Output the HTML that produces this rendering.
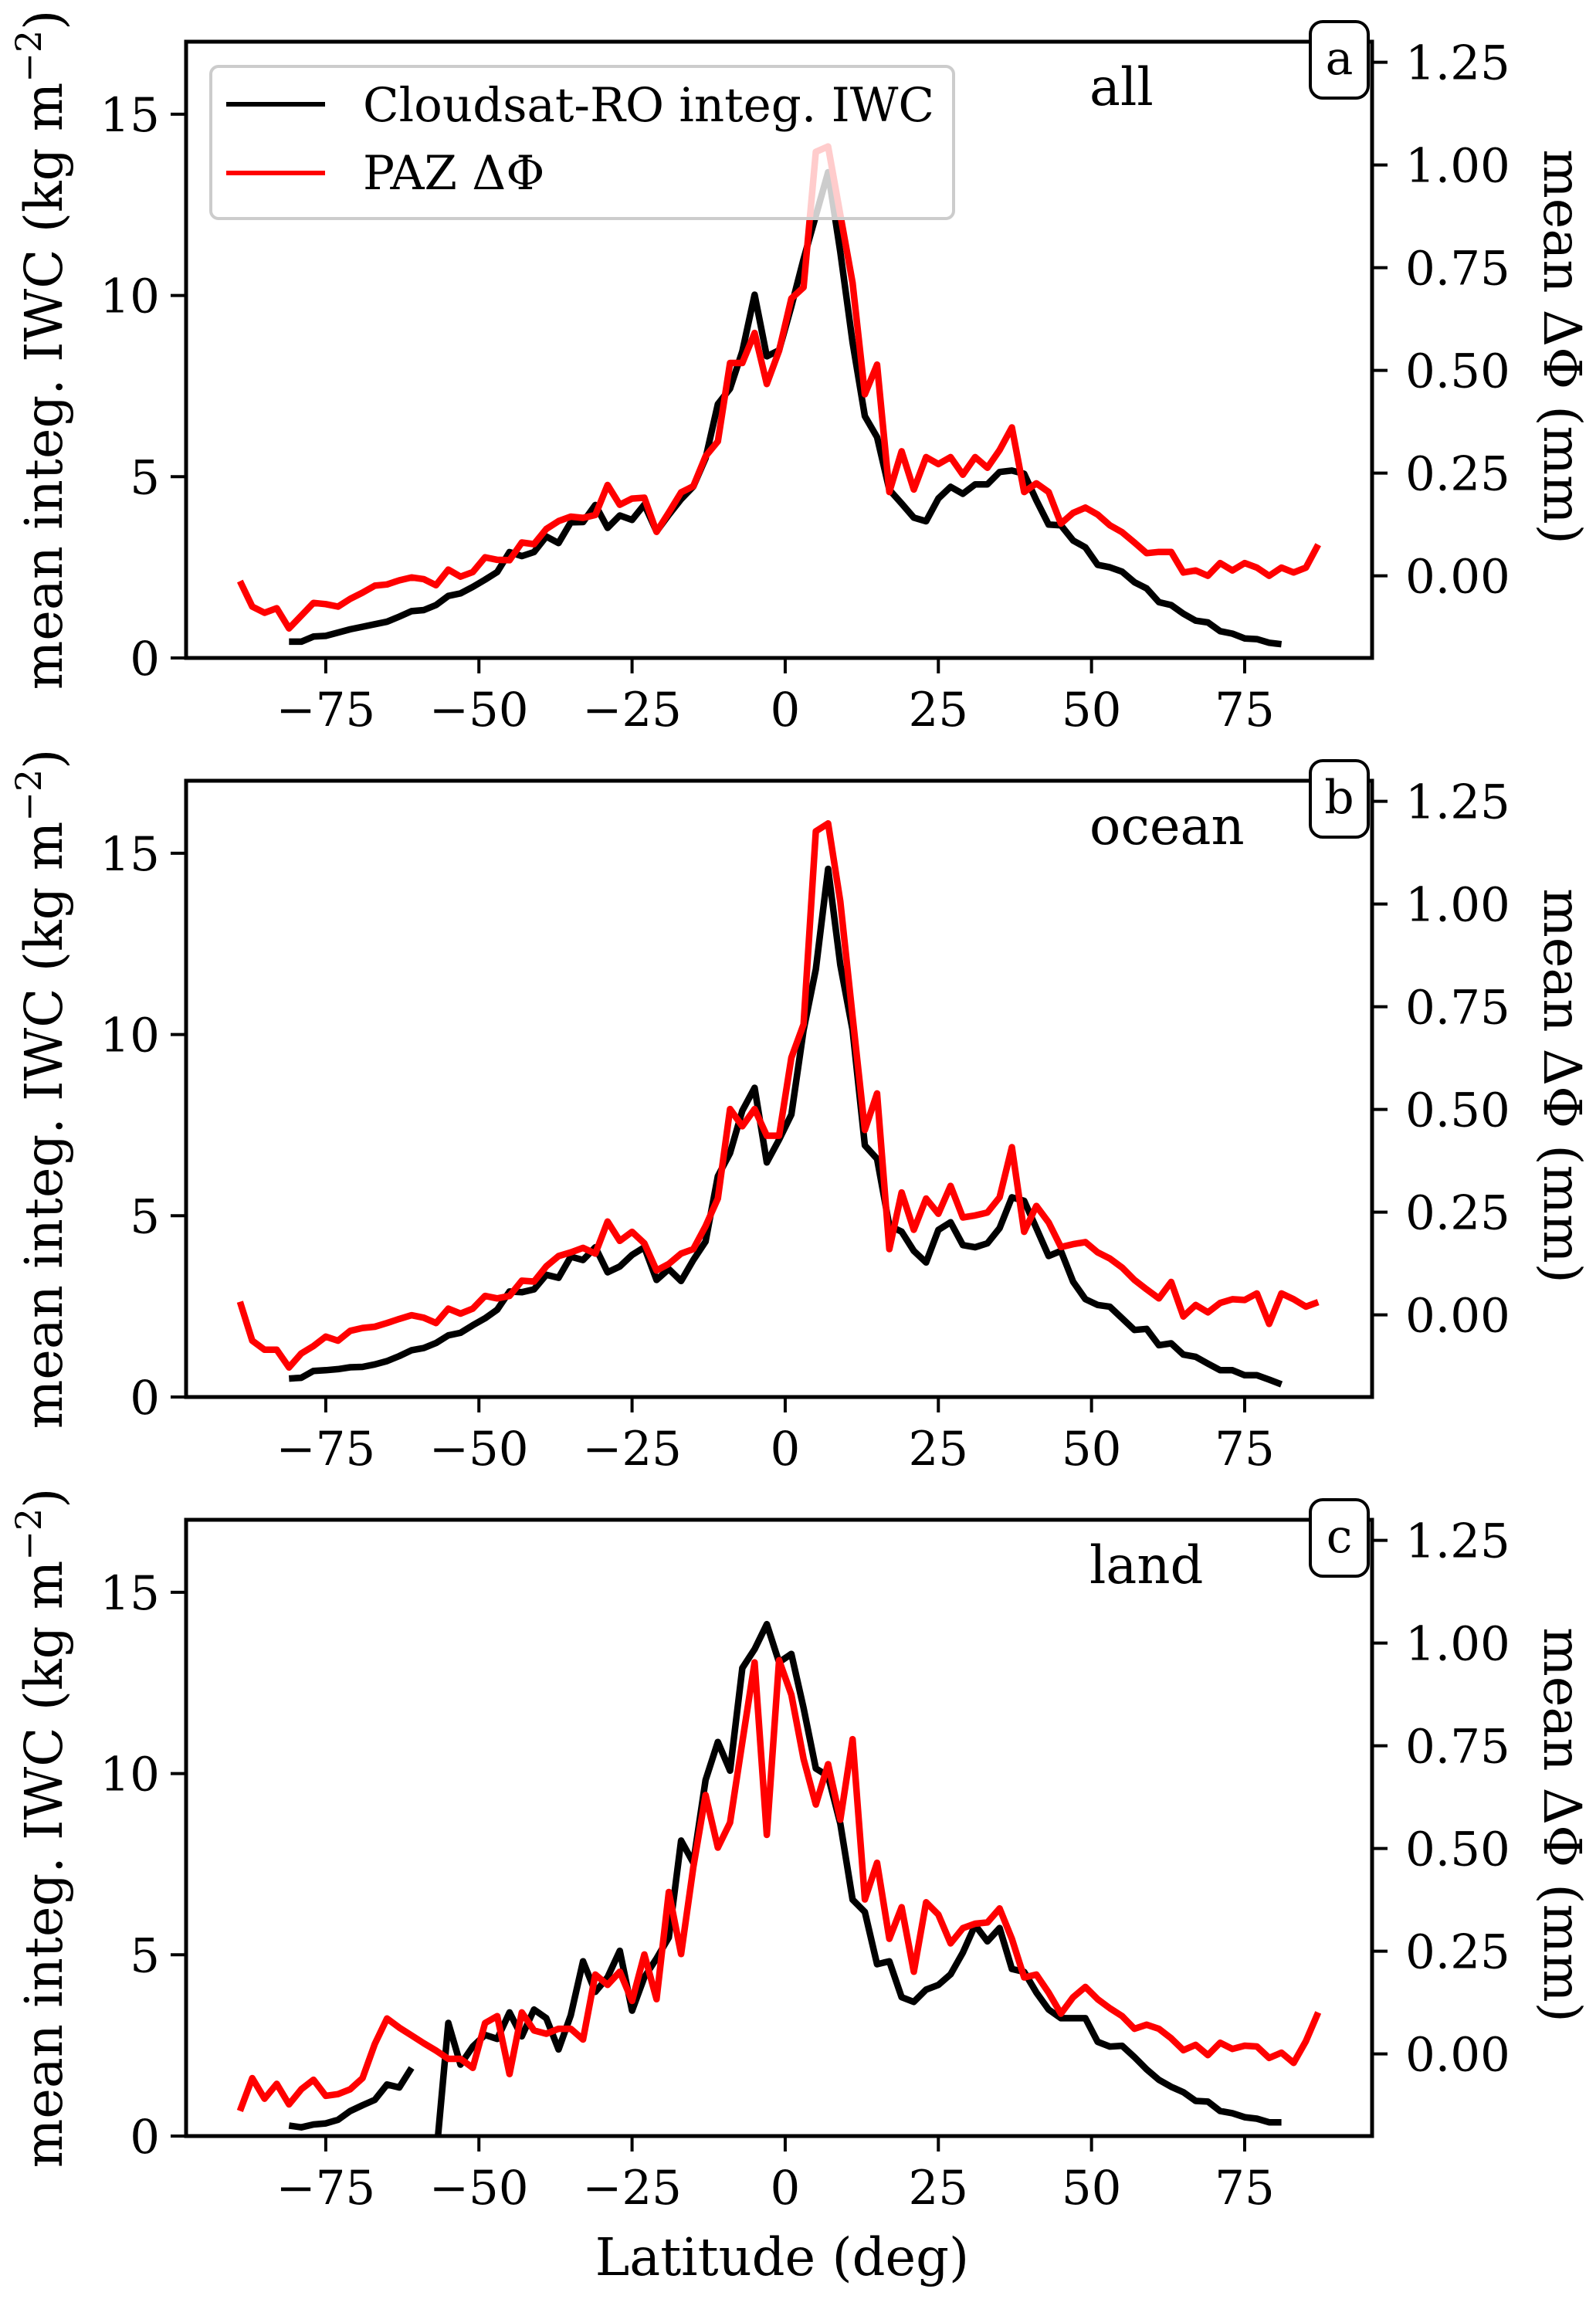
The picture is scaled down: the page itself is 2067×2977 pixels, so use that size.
<!DOCTYPE html>
<html><head><meta charset="utf-8">
<style>
html,body{margin:0;padding:0;background:#fff;}
svg{display:block;font-family:"DejaVu Serif","Liberation Serif",serif;}
</style></head>
<body>
<svg id="fig" xmlns="http://www.w3.org/2000/svg" width="2067" height="2977" viewBox="0 0 2067 2977"></svg>
<script>
// ---- data ----
const latRed = [-89,-87,-85,-83,-81,-79,-77,-75,-73,-71,-69,-67,-65,-63,-61,-59,-57,-55,-53,-51,-49,-47,-45,-43,-41,-39,-37,-35,-33,-31,-29,-27,-25,-23,-21,-19,-17,-15,-13,-11,-9,-7,-5,-3,-1,1,3,5,7,9,11,13,15,17,19,21,23,25,27,29,31,33,35,37,39,41,43,45,47,49,51,53,55,57,59,61,63,65,67,69,71,73,75,77,79,81,83,85,87];
const latBlack = [-81,-79,-77,-75,-73,-71,-69,-67,-65,-63,-61,-59,-57,-55,-53,-51,-49,-47,-45,-43,-41,-39,-37,-35,-33,-31,-29,-27,-25,-23,-21,-19,-17,-15,-13,-11,-9,-7,-5,-3,-1,1,3,5,7,9,11,13,15,17,19,21,23,25,27,29,31,33,35,37,39,41,43,45,47,49,51,53,55,57,59,61,63,65,67,69,71,73,75,77,79,81];

const redAll = [-0.013,-0.075,-0.09,-0.079,-0.128,-0.097,-0.066,-0.069,-0.075,-0.056,-0.041,-0.024,-0.021,-0.011,-0.004,-0.008,-0.023,0.015,-0.002,0.009,0.045,0.039,0.038,0.081,0.077,0.114,0.133,0.144,0.141,0.148,0.221,0.173,0.188,0.19,0.107,0.154,0.203,0.218,0.291,0.327,0.518,0.518,0.591,0.467,0.548,
0.675,0.702,1.032,1.045,0.879,0.713,0.442,0.514,0.204,0.303,0.21,0.289,0.272,0.289,0.246,0.289,0.263,0.306,0.361,0.204,0.225,0.204,0.127,0.153,0.166,0.149,0.123,0.106,0.081,0.055,0.058,0.058,0.008,0.013,0.0,0.031,0.013,0.031,0.02,0.0,0.02,0.008,0.02,0.076];
const blackAll = [0.45,0.45,0.59,0.61,0.70,0.79,0.86,0.93,1.0,1.14,1.29,1.32,1.46,1.71,1.78,1.96,2.16,2.37,2.92,2.81,2.92,3.35,3.17,3.74,3.75,4.22,3.59,3.93,3.81,4.23,3.49,3.95,4.38,4.73,5.51,7.0,7.43,8.46,10.02,8.32,8.49,
9.7,11.0,12.2,13.4,11.2,8.7,6.67,6.09,4.64,4.26,3.87,3.77,4.4,4.72,4.53,4.79,4.79,5.13,5.17,5.08,4.35,3.68,3.66,3.24,3.05,2.57,2.5,2.38,2.09,1.92,1.54,1.46,1.22,1.03,0.98,0.74,0.67,0.54,0.52,0.42,0.38];

const redOcean = [0.032,-0.063,-0.085,-0.085,-0.128,-0.094,-0.076,-0.053,-0.063,-0.039,-0.032,-0.029,-0.02,-0.01,-0.001,-0.007,-0.02,0.015,0.003,0.015,0.046,0.04,0.046,0.083,0.081,0.118,0.143,0.152,0.163,0.149,0.227,0.18,0.202,0.174,0.108,0.124,0.149,0.16,0.216,0.283,0.501,0.459,0.501,0.436,0.436,
0.626,0.707,1.177,1.196,1.006,0.726,0.45,0.539,0.16,0.298,0.207,0.283,0.246,0.314,0.237,0.242,0.249,0.286,0.408,0.202,0.265,0.225,0.165,0.172,0.177,0.152,0.137,0.115,0.085,0.062,0.04,0.08,-0.004,0.024,0.006,0.029,0.038,0.036,0.052,-0.022,0.052,0.038,0.02,0.031];
const blackOcean = [0.51,0.53,0.72,0.74,0.77,0.82,0.83,0.9,0.99,1.13,1.29,1.35,1.49,1.7,1.77,1.98,2.17,2.41,2.91,2.89,2.97,3.37,3.29,3.87,3.78,4.13,3.44,3.6,3.92,4.13,3.23,3.53,3.2,3.78,4.29,6.09,6.73,7.9,8.53,6.47,7.1,
7.79,10.12,11.8,14.57,11.92,10.12,6.94,6.57,4.72,4.56,4.03,3.71,4.61,4.82,4.19,4.13,4.24,4.66,5.51,5.41,4.66,3.89,4.03,3.18,2.7,2.54,2.49,2.17,1.85,1.88,1.43,1.48,1.17,1.11,0.92,0.74,0.74,0.6,0.6,0.48,0.35];

const redLand = [-0.139,-0.059,-0.109,-0.073,-0.123,-0.086,-0.063,-0.102,-0.098,-0.086,-0.059,0.024,0.086,0.064,0.045,0.026,0.008,-0.012,-0.012,-0.034,0.075,0.092,-0.049,0.101,0.057,0.049,0.061,0.061,0.035,0.193,0.168,0.2,0.129,0.242,0.133,0.394,0.243,0.454,0.63,0.502,0.563,0.759,0.953,0.533,0.958,
0.874,0.718,0.607,0.705,0.57,0.766,0.376,0.465,0.28,0.357,0.2,0.369,0.339,0.269,0.306,0.317,0.32,0.354,0.28,0.186,0.193,0.149,0.098,0.138,0.163,0.133,0.111,0.092,0.061,0.071,0.061,0.038,0.009,0.022,-0.003,0.027,0.012,0.02,0.018,-0.01,0.003,-0.022,0.031,0.101];
const blackLand = [0.29,0.24,0.32,0.35,0.45,0.69,0.85,1.0,1.42,1.34,1.88,null,-0.6,3.12,1.97,2.47,2.79,2.68,3.41,2.75,3.49,3.25,2.39,3.33,4.82,3.98,4.38,5.11,3.46,4.38,4.9,5.48,8.15,7.54,9.82,10.87,10.08,12.91,13.43,14.12,13.07,
13.3,11.81,10.14,9.93,8.62,6.52,6.18,4.74,4.82,3.83,3.7,4.04,4.17,4.46,5.06,5.82,5.37,5.74,4.61,4.53,3.96,3.49,3.25,3.25,3.25,2.6,2.47,2.49,2.18,1.84,1.55,1.36,1.21,0.97,0.95,0.69,0.63,0.52,0.48,0.38,0.38];

const xTicks = [-75,-50,-25,0,25,50,75];
const xTickLabels = ["\u221275","\u221250","\u221225","0","25","50","75"];
const yLeftTicks = [0,5,10,15];
const yRightTicks = [0,0.25,0.5,0.75,1.0,1.25];
const yRightTickLabels = ["0.00","0.25","0.50","0.75","1.00","1.25"];
const panelNames = ["all","ocean","land"];
const panelLetters = ["a","b","c"];

// ---- layout ----
const NS = "http://www.w3.org/2000/svg";
const svg = document.getElementById("fig");
const AX_L = 241, AX_R = 1777, AX_H = 798;
const tops = [54, 1011, 1968];
const XMIN = -97.8, XMAX = 95.8, YLMAX = 17, YRMIN = -0.2, YRMAX = 1.3;
const TICK_FS = 61, TITLE_FS = 67, LW = 8.5;
function xs(lat){ return AX_L + (lat - XMIN) / (XMAX - XMIN) * (AX_R - AX_L); }
function yL(v, top){ return top + AX_H - v / YLMAX * AX_H; }
function yR(v, top){ return top + AX_H - (v - YRMIN) / (YRMAX - YRMIN) * AX_H; }
function mk(tag, attrs, parent){
  const e = document.createElementNS(NS, tag);
  for (const k in attrs) e.setAttribute(k, attrs[k]);
  (parent || svg).appendChild(e);
  return e;
}
function pathFrom(lats, vals, yf, top){
  let d = "", pen = false;
  for (let i = 0; i < lats.length; i++){
    const v = vals[i];
    if (v === null || v === undefined){ pen = false; continue; }
    d += (pen ? "L" : "M") + xs(lats[i]).toFixed(1) + "," + yf(v, top).toFixed(1);
    pen = true;
  }
  return d;
}

const reds = [redAll, redOcean, redLand];
const blacks = [blackAll, blackOcean, blackLand];

for (let p = 0; p < 3; p++){
  const top = tops[p], bot = top + AX_H;
  const g = mk("g", {});
  
  

  const cp = mk("clipPath", {id: "clip" + p}, g);
  mk("rect", {x: AX_L, y: top, width: AX_R - AX_L, height: AX_H}, cp);

  const bl = mk("path", {d: pathFrom(latBlack, blacks[p], yL, top), fill: "none", stroke: "#000", "stroke-width": LW, "stroke-linejoin": "round", "clip-path": "url(#clip" + p + ")"}, g);
  
  
  const rl = mk("path", {d: pathFrom(latRed, reds[p], yR, top), fill: "none", stroke: "#ff0000", "stroke-width": LW, "stroke-linejoin": "round", "clip-path": "url(#clip" + p + ")"}, g);
  
  

  const fr = mk("rect", {x: AX_L, y: top, width: AX_R - AX_L, height: AX_H, fill: "none", stroke: "#000", "stroke-width": 5}, g);
  
  

  for (let i = 0; i < xTicks.length; i++){
    const x = xs(xTicks[i]);
    mk("line", {x1: x, y1: bot, x2: x, y2: bot + 20, stroke: "#000", "stroke-width": 4}, g);
    const t = mk("text", {x: x, y: bot + 88, "font-size": TICK_FS, "text-anchor": "middle"}, g);
    t.textContent = xTickLabels[i];
    
    
  }
  for (let i = 0; i < yLeftTicks.length; i++){
    const y = yL(yLeftTicks[i], top);
    mk("line", {x1: AX_L - 20, y1: y, x2: AX_L, y2: y, stroke: "#000", "stroke-width": 4}, g);
    const t = mk("text", {x: AX_L - 34, y: y + 22, "font-size": TICK_FS, "text-anchor": "end"}, g);
    t.textContent = String(yLeftTicks[i]);
    
    
  }
  for (let i = 0; i < yRightTicks.length; i++){
    const y = yR(yRightTicks[i], top);
    mk("line", {x1: AX_R, y1: y, x2: AX_R + 20, y2: y, stroke: "#000", "stroke-width": 4}, g);
    const t = mk("text", {x: AX_R + 43, y: y + 22, "font-size": TICK_FS, "text-anchor": "start"}, g);
    t.textContent = yRightTickLabels[i];
    
    
  }
  const cy = top + AX_H / 2;
  const lt = mk("text", {x: 0, y: 0, "font-size": TITLE_FS, "text-anchor": "middle", transform: "translate(80," + cy + ") rotate(-90)"}, g);
  lt.innerHTML = 'mean integ. IWC (kg m<tspan dy="-27" font-size="46">\u22122</tspan><tspan dy="27">)</tspan>';
  
  
  const rt = mk("text", {x: 0, y: 0, "font-size": TITLE_FS, "text-anchor": "middle", transform: "translate(2000," + (top + 395) + ") rotate(90)"}, g);
  rt.textContent = "mean \u0394\u03A6 (mm)";
  
  

  const nl = mk("text", {x: 1411, y: top + 82, "font-size": TITLE_FS}, g);
  nl.textContent = panelNames[p];
  
  
  const lb = mk("rect", {x: 1697, y: top - 26, width: 75, height: 99, rx: 16, ry: 16, fill: "#fff", stroke: "#000", "stroke-width": 4}, g);
  
  
  const ll = mk("text", {x: 1734.5, y: top + 42, "font-size": 60, "text-anchor": "middle"}, g);
  ll.textContent = panelLetters[p];
  
  
}

const lg = mk("g", {});


mk("rect", {x: 273, y: 86, width: 962, height: 197, rx: 10, ry: 10, fill: "rgba(255,255,255,0.8)", stroke: "#cccccc", "stroke-width": 4}, lg);
const le1 = mk("g", {}, lg);


mk("line", {x1: 293, y1: 135, x2: 421, y2: 135, stroke: "#000", "stroke-width": 6}, le1);
const lt1 = mk("text", {x: 470, y: 157, "font-size": 61}, le1);
lt1.textContent = "Cloudsat-RO integ. IWC";
const le2 = mk("g", {}, lg);


mk("line", {x1: 293, y1: 224, x2: 421, y2: 224, stroke: "#ff0000", "stroke-width": 6}, le2);
const lt2 = mk("text", {x: 470, y: 245, "font-size": 61}, le2);
lt2.textContent = "PAZ \u0394\u03A6";

const xt = mk("text", {x: 1013, y: 2946, "font-size": TITLE_FS, "text-anchor": "middle"});
xt.textContent = "Latitude (deg)";


</script>
</body></html>
